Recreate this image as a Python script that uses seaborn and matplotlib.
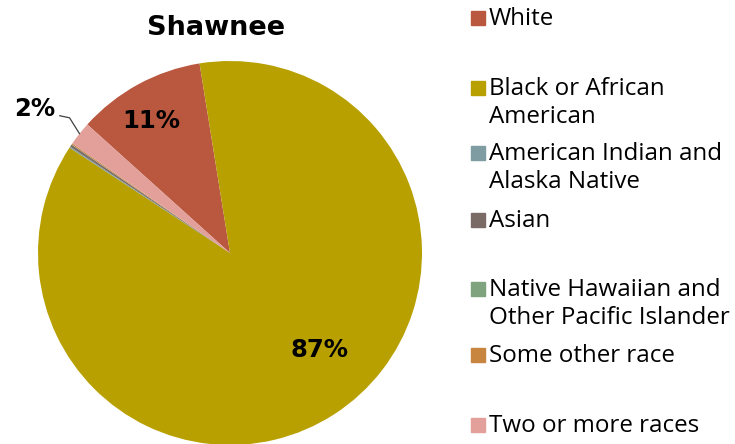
import numpy as np
import seaborn as sns
import matplotlib.pyplot as plt
from matplotlib.patches import Rectangle

# race breakdown, percent
races = ['White', 'Black or African\nAmerican', 'American Indian and\nAlaska Native', 'Asian',
         'Native Hawaiian and\nOther Pacific Islander', 'Some other race', 'Two or more races']
shares = [10.8, 86.8, 0.1, 0.2, 0.02, 0.1, 2.0]
shown_labels = ['11%', '87%', '', '', '', '', '2%']
colors = ['#B9573F', '#B8A000', '#7E9CA2', '#7B6B66', '#7FA27F', '#C8853F', '#E3A09A']
legend_y = [18, 88, 153, 220, 289, 355, 425]


def main():
    sns.set_theme(style='white')
    plt.rcParams['font.family'] = ['DejaVu Sans']

    fig = plt.figure(figsize=(7.35, 4.44), dpi=100)
    W, H = 735, 444
    cx, cy, r = 230, 253, 192
    ax = fig.add_axes([(cx - r) / W, (H - cy - r) / H, 2 * r / W, 2 * r / H])

    wedges, _ = ax.pie(shares, colors=colors, startangle=138, counterclock=False,
                       wedgeprops={'linewidth': 0})
    ax.set_xlim(-1, 1)
    ax.set_ylim(-1, 1)
    ax.set_aspect('equal')
    ax.axis('off')

    for w, lab in zip(wedges, shown_labels):
        if not lab:
            continue
        mid = np.deg2rad((w.theta1 + w.theta2) / 2)
        if lab == '2%':
            x0, y0 = np.cos(mid), np.sin(mid)
            ax.plot([x0, x0 - 0.052, x0 - 0.104], [y0, y0 + 0.083, y0 + 0.094],
                    color='#404040', lw=0.9, clip_on=False)
            ax.text(x0 - 0.235, y0 + 0.13, lab, ha='center', va='center',
                    fontsize=17.5, fontweight='bold', color='black')
        elif lab == '11%':
            ax.text(0.8 * np.cos(mid + 0.04), 0.8 * np.sin(mid + 0.04), lab,
                    ha='center', va='center', fontsize=17.5, fontweight='bold', color='black')
        else:
            mid = mid + 0.17
            ax.text(0.69 * np.cos(mid), 0.69 * np.sin(mid), lab, ha='center', va='center',
                    fontsize=17.5, fontweight='bold', color='black')

    fig.text(216 / W, 1 - 28 / H, 'Shawnee', ha='center', va='center',
             fontsize=19.5, fontweight='bold', color='black')

    # legend, placed like the spreadsheet one
    for lab, col, y in zip(races, colors, legend_y):
        fig.patches.append(Rectangle((471 / W, 1 - (y + 7) / H), 14 / W, 14 / H,
                                     transform=fig.transFigure, color=col))
        fig.text(489 / W, 1 - (y - 11) / H, lab, ha='left', va='top', fontsize=17.4,
                 family=['Open Sans', 'DejaVu Sans'], color='black', linespacing=1.2)

    fig.savefig('out.png', dpi=100, facecolor='white')


if __name__ == '__main__':
    main()
